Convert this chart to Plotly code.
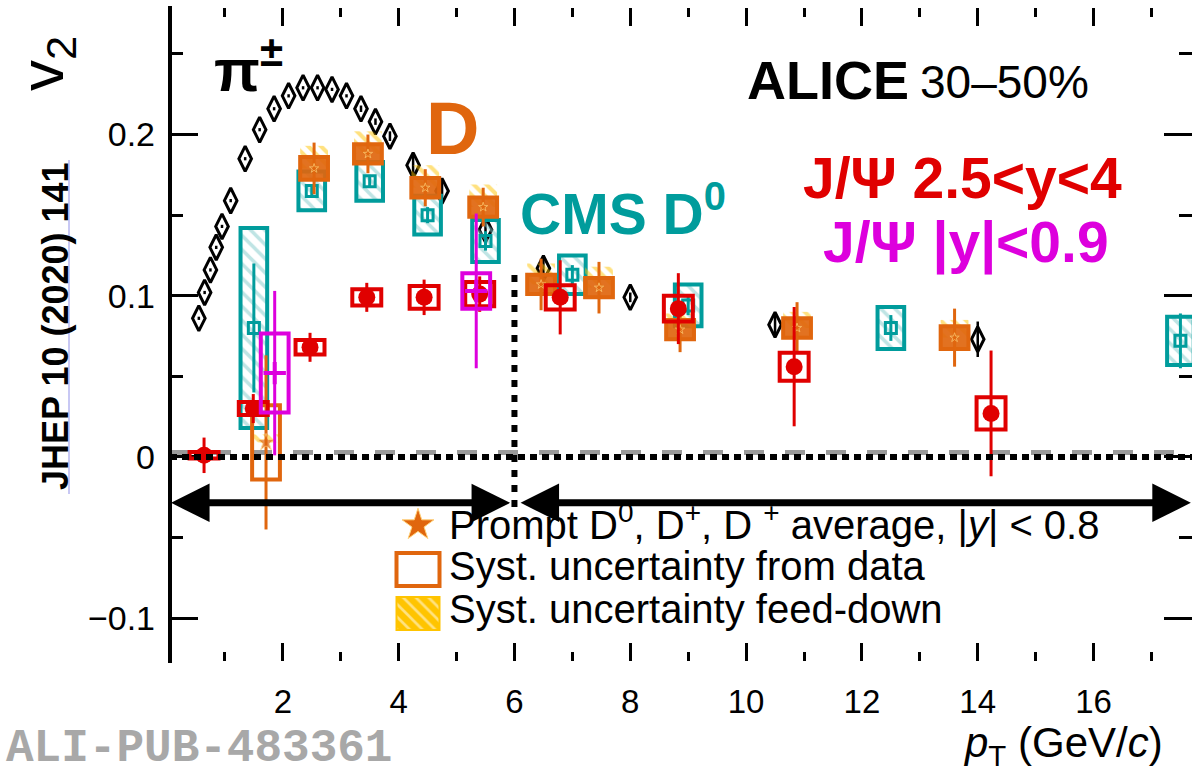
import plotly.graph_objects as go

# ---------------- data ----------------
# charged pions (black open diamonds)
pi_x = [0.55, 0.65, 0.75, 0.85, 0.95, 1.1, 1.35, 1.6, 1.85, 2.1, 2.35, 2.6, 2.85, 3.1,
        3.35, 3.6, 3.85, 4.25, 4.75, 5.5, 6.5, 8.0, 10.5, 14.0]
pi_y = [0.086, 0.102, 0.116, 0.130, 0.143, 0.159, 0.185, 0.203, 0.216, 0.224, 0.229, 0.229,
        0.228, 0.224, 0.216, 0.208, 0.199, 0.181, 0.165, 0.141, 0.117, 0.099, 0.082, 0.073]
pi_err = [0.001, 0.001, 0.001, 0.001, 0.001, 0.001, 0.001, 0.001, 0.001, 0.001, 0.001, 0.001,
          0.001, 0.001, 0.002, 0.002, 0.003, 0.007, 0.006, 0.006, 0.006, 0.003, 0.006, 0.011]

# CMS D0 (teal)
cms_x = [1.5, 2.5, 3.5, 4.5, 5.5, 7.0, 9.0, 12.5, 17.5]
cms_y = [0.080, 0.165, 0.171, 0.150, 0.134, 0.113, 0.094, 0.080, 0.072]
cms_stat = [0.040, 0.004, 0.004, 0.005, 0.006, 0.006, 0.006, 0.008, 0.017]
cms_syst = [0.062, 0.012, 0.012, 0.012, 0.013, 0.012, 0.013, 0.013, 0.015]

# ALICE prompt D average (orange)
d_x = [1.71, 2.54, 3.47, 4.46, 5.46, 6.46, 7.46, 8.86, 10.88, 13.6]
d_y = [0.009, 0.179, 0.188, 0.167, 0.155, 0.107, 0.105, 0.079, 0.080, 0.074]
d_stat = [0.054, 0.016, 0.012, 0.0115, 0.012, 0.016, 0.016, 0.014, 0.016, 0.018]
d_syst = [0.023, 0.007, 0.006, 0.006, 0.006, 0.006, 0.006, 0.006, 0.006, 0.007]
d_fd = [0.005, 0.014, 0.014, 0.014, 0.014, 0.013, 0.013, 0.010, 0.010, 0.011]

# J/psi 2.5<y<4 (red)
jf_x = [0.64, 1.49, 2.47, 3.45, 4.44, 5.40, 6.79, 8.83, 10.83, 14.23]
jf_y = [0.001, 0.030, 0.068, 0.099, 0.099, 0.101, 0.099, 0.092, 0.056, 0.027]
jf_stat = [0.011, 0.009, 0.009, 0.009, 0.011, 0.011, 0.023, 0.022, 0.037, 0.039]
jf_syst = [0.002, 0.004, 0.0045, 0.005, 0.007, 0.0075, 0.0075, 0.008, 0.0087, 0.010]

# J/psi |y|<0.9 (magenta)
jm_x = [1.86, 5.34]
jm_y = [0.052, 0.103]
jm_stat = [0.051, 0.048]
jm_syst = [0.0245, 0.011]

x_ticks = [2, 4, 6, 8, 10, 12, 14, 16]
y_ticks = [-0.1, 0, 0.1, 0.2]
y_ticktext = ["\u22120.1", "0", "0.1", "0.2"]

# ---------------- style ----------------
ORANGE = "#e0660e"
TEAL = "#009c9c"
LTEAL = "#7fcaca"
RED = "#e00000"
MAG = "#dd00dd"
YELLOW = "#ffc400"
FONT = "Liberation Sans, Arial, sans-serif"

W, H = 1192, 778
ML, MR, MT, MB = 170, 0, 8, 117
X_RANGE = [0.052, 17.70]
Y_RANGE = [-0.1266, 0.2785]


def paper(px, py):
    return (px - ML) / (W - ML - MR), (H - MB - py) / (H - MT - MB)


fig = go.Figure()


def boxes(x, y, e, w, line_color, lw, fill, pattern=None, z=0):
    fig.add_trace(go.Bar(
        x=x, base=[a - b for a, b in zip(y, e)], y=[2 * b for b in e], width=w,
        marker=dict(color=fill, line=dict(color=line_color, width=lw), pattern=pattern),
        showlegend=False, hoverinfo="skip", zorder=z))


def points(x, y, err, color, symbol, size, lw=0, mcolor=None, thick=3, z=0, lcolor=None):
    fig.add_trace(go.Scatter(
        x=x, y=y, mode="markers",
        error_y=dict(type="data", array=err, color=color, thickness=thick, width=0),
        marker=dict(symbol=symbol, size=size, color=mcolor or color,
                    line=dict(width=lw, color=lcolor or color)),
        showlegend=False, hoverinfo="skip", zorder=z))


# pions
points(pi_x, pi_y, pi_err, "black", "diamond-tall-open", 18, lw=3, thick=2.5, z=1)

# CMS D0
boxes(cms_x, cms_y, cms_syst, 0.46, TEAL, 4, "rgba(255,255,255,0)",
      pattern=dict(shape="\\", fgcolor=LTEAL, bgcolor="rgba(255,255,255,0)", size=10,
                   solidity=0.35), z=2)
points(cms_x, cms_y, cms_stat, TEAL, "square-open", 11, lw=3, z=3)

# ALICE D
boxes(d_x, [a + b / 2 for a, b in zip(d_y, d_fd)], [b / 2 for b in d_fd], 0.48,
      "rgba(0,0,0,0)", 0, "rgba(255,255,255,0)",
      pattern=dict(shape="\\", fgcolor=YELLOW, bgcolor="rgba(255,255,255,0)", size=9,
                   solidity=0.45), z=4)
d_fill = ["rgba(255,255,255,0)"] + ["rgba(224,102,14,0.92)"] * (len(d_x) - 1)
d_msize = [13] + [7] * (len(d_x) - 1)
boxes(d_x, d_y, d_syst, 0.48, ORANGE, 4, d_fill, z=5)
points(d_x, d_y, d_stat, ORANGE, "star", d_msize, lw=1, lcolor="#ffd27a", z=6)

# J/psi forward
boxes(jf_x, jf_y, jf_syst, 0.50, RED, 4, "rgba(255,255,255,0)", z=7)
points(jf_x, jf_y, jf_stat, RED, "circle", 17, z=8)

# J/psi mid-rapidity
boxes(jm_x, jm_y, jm_syst, 0.48, MAG, 4, "rgba(255,255,255,0)", z=9)
points(jm_x, jm_y, jm_stat, MAG, "cross-thin-open", 16, lw=4, z=10)

# ---------------- legend (drawn on a pixel overlay axis) ----------------
LEG_ICON_X = 418
fig.add_trace(go.Bar(x=[LEG_ICON_X], base=[553], y=[33], width=[43], xaxis="x2", yaxis="y2",
                     marker=dict(color="rgba(255,255,255,0)", line=dict(color=ORANGE, width=4)),
                     showlegend=False, hoverinfo="skip"))
fig.add_trace(go.Bar(x=[LEG_ICON_X], base=[597], y=[33], width=[43], xaxis="x2", yaxis="y2",
                     marker=dict(color=YELLOW, line=dict(color=YELLOW, width=2),
                                 pattern=dict(shape="\\", fgcolor="white", bgcolor=YELLOW,
                                              size=9, solidity=0.3)),
                     showlegend=False, hoverinfo="skip"))
fig.add_trace(go.Scatter(x=[LEG_ICON_X], y=[525], xaxis="x2", yaxis="y2", mode="markers",
                         marker=dict(symbol="star", size=24, color=ORANGE,
                                     line=dict(width=1, color="#ffd27a")),
                         showlegend=False, hoverinfo="skip"))

ann = []


def text(px, py, s, size, color="black", xanchor="left", family=FONT, angle=0):
    x, y = paper(px, py)
    ann.append(dict(x=x, y=y, xref="paper", yref="paper", text=s, showarrow=False,
                    xanchor=xanchor, yanchor="middle", textangle=angle,
                    font=dict(size=size, color=color, family=family)))


text(447, 522, "Prompt D<sup>0</sup>, D<sup>+</sup>, D <sup>+</sup> average, |<i>y</i>| &lt; 0.8", 40)
text(447, 566, "Syst. uncertainty from data", 40)
text(447, 609, "Syst. uncertainty feed-down", 40)

text(212, 66, "<b>\u03c0</b><sup><b>\u00b1</b></sup>", 60)
text(745, 80, "<b>ALICE</b>", 54)
text(918, 82, "30\u201350%", 46)
text(424, 128, "<b>D</b>", 74, ORANGE)
text(518, 210, "<b>CMS D<sup>0</sup></b>", 57, TEAL)
text(801, 178, "<b>J/\u03a8 2.5&lt;y&lt;4</b>", 57, RED)
text(821, 242, "<b>J/\u03a8 |y|&lt;0.9</b>", 57, MAG)

text(46, 64, "v<sub>2</sub>", 62, xanchor="center", angle=-90)
text(55, 326, "<b>JHEP 10 (2020) 141</b>", 36, xanchor="center",
     family="Liberation Sans Narrow, Arial Narrow, sans-serif", angle=-90)
text(1165, 745, "<i>p</i><sub>T</sub> (GeV/<i>c</i>)", 42, xanchor="right")
text(4, 749, "<b>ALI-PUB-483361</b>", 46, "#a8a8a8",
     family="Liberation Mono, Courier New, monospace")

# arrows
ARROW_Y = -0.0285
for tip, tail in [(0.07, 5.95), (17.68, 6.08)]:
    ann.append(dict(x=tip, y=ARROW_Y, ax=tail, ay=ARROW_Y, xref="x", yref="y", axref="x",
                    ayref="y", text="", showarrow=True, arrowside="end+start",
                    arrowhead=2, startarrowhead=2, arrowsize=1.1, startarrowsize=1.1,
                    arrowwidth=7, arrowcolor="black"))

shapes = [
    dict(type="line", xref="paper", yref="y", x0=0, x1=1, y0=0.0028, y1=0.0028,
         line=dict(color="#9a9a9a", width=5, dash="20px,21px"), layer="below"),
    dict(type="line", xref="paper", yref="y", x0=0, x1=1, y0=0, y1=0,
         line=dict(color="black", width=6, dash="7px,5px"), layer="above"),
    dict(type="line", xref="x", yref="y", x0=6, x1=6, y0=-0.031, y1=0.115,
         line=dict(color="black", width=6, dash="7px,8px"), layer="above"),
    dict(type="line", xref="paper", yref="paper", x0=0, x1=0, y0=-0.003, y1=1.003,
         line=dict(color="black", width=4)),
]
x_ul, _ = paper(69, 0)
_, y_top = paper(0, 160)
_, y_bot = paper(0, 494)
shapes.append(dict(type="line", xref="paper", yref="paper", x0=x_ul, x1=x_ul, y0=y_bot, y1=y_top,
                   line=dict(color="#c8c8f4", width=2)))

fig.update_layout(
    width=W, height=H, margin=dict(l=ML, r=MR, t=MT, b=MB, pad=0),
    paper_bgcolor="white", plot_bgcolor="white", showlegend=False, barmode="overlay",
    font=dict(family=FONT, color="black"),
    xaxis=dict(range=X_RANGE, tickmode="array", tickvals=x_ticks, ticks="inside", ticklen=18,
               tickwidth=2.5, tickcolor="black", showline=True, linewidth=4, linecolor="black",
               mirror="ticks", showgrid=False, zeroline=False, tickfont=dict(size=33),
               ticklabelstandoff=8,
               minor=dict(tickmode="linear", tick0=0, dtick=1, ticks="inside", ticklen=9,
                          tickwidth=2.5, tickcolor="black", showgrid=False)),
    yaxis=dict(range=Y_RANGE, tickmode="array", tickvals=y_ticks, ticktext=y_ticktext,
               ticks="inside", ticklen=28, tickwidth=2.5, tickcolor="black", showline=False,
               mirror="ticks", showgrid=False, zeroline=False, tickfont=dict(size=34),
               ticklabelstandoff=14,
               minor=dict(tickmode="linear", tick0=0, dtick=0.05, ticks="inside", ticklen=13,
                          tickwidth=2.5, tickcolor="black", showgrid=False)),
    xaxis2=dict(overlaying="x", anchor="y2", range=[ML, W - MR], visible=False),
    yaxis2=dict(overlaying="y", anchor="x2", range=[H - MB, MT], visible=False),
    annotations=ann, shapes=shapes,
)

fig.write_html("out.html")
